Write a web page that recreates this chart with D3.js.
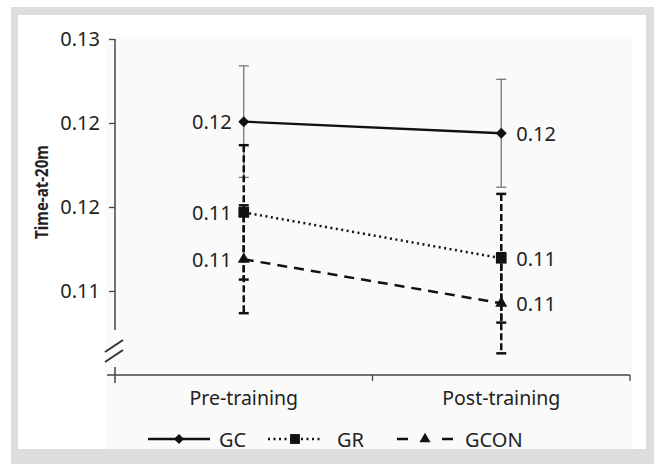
<!DOCTYPE html>
<html>
<head>
<meta charset="utf-8">
<script src="https://cdn.jsdelivr.net/npm/d3@7"></script>
<style>
  body { margin: 0; background: #fff; }
  text { font-family: "Noto Sans", "Open Sans", sans-serif; fill: #222; }
</style>
</head>
<body>
<div id="graph"></div>
<script>
"use strict";

let width = 654,
    height = 464;

// data
const categories = ["Pre-training", "Post-training"];
const groups = ["GC", "GR", "GCON"];
const gcMean = [0.12508, 0.12439];
const gcSD = [0.00332, 0.00321];
const grMean = [0.11968, 0.11695];
const grSD = [0.00400, 0.00383];
const gconMean = [0.11689, 0.11427];
const gconSD = [0.00321, 0.00298];
const gcLabels = ["0.12", "0.12"];
const grLabels = ["0.11", "0.11"];
const gconLabels = ["0.11", "0.11"];
const yTicks = [0.115, 0.12, 0.125, 0.13];
const yTickLabels = ["0.11", "0.12", "0.12", "0.13"];

const plot = { left: 115, right: 630, top: 39, axisY: 375 };

let svg = d3.select("#graph")
    .append("svg")
    .attr("width", width)
    .attr("height", height);

// white panel + light plot area
svg.append("rect").attr("x", 18).attr("y", 15).attr("width", 628).attr("height", 440).attr("fill", "#fff");
svg.append("rect").attr("x", 105).attr("y", 37).attr("width", 527).attr("height", 412).attr("fill", "#fafafa");

let x = d3.scaleBand().domain(categories).range([plot.left, plot.right]);
let y = d3.scaleLinear().domain([0.115, 0.13]).range([291, 39]);
let cx = (c) => x(c) + x.bandwidth() / 2;

// y axis
let yAxis = svg.append("g")
    .attr("transform", "translate(" + plot.left + ",0)")
    .call(d3.axisLeft(y)
        .tickValues(yTicks)
        .tickFormat((d, i) => yTickLabels[i])
        .tickSize(6)
        .tickPadding(9));
yAxis.select(".domain").remove();
yAxis.selectAll("line").attr("stroke", "#444").attr("stroke-width", 1.3);
yAxis.selectAll("text").style("font-size", "20px").attr("fill", "#222");

svg.append("line")
    .attr("x1", plot.left).attr("x2", plot.left)
    .attr("y1", y(0.13)).attr("y2", 330)
    .attr("stroke", "#444").attr("stroke-width", 1.5);

// axis break
[0, 10].forEach(function (off) {
    svg.append("line")
        .attr("x1", 105).attr("y1", 352 + off)
        .attr("x2", 123).attr("y2", 340 + off)
        .attr("stroke", "#333").attr("stroke-width", 2);
});

// x axis
svg.append("line")
    .attr("x1", 107).attr("x2", plot.right)
    .attr("y1", plot.axisY).attr("y2", plot.axisY)
    .attr("stroke", "#444").attr("stroke-width", 1.5);
svg.append("line")
    .attr("x1", plot.left).attr("x2", plot.left)
    .attr("y1", plot.axisY - 8).attr("y2", plot.axisY + 8)
    .attr("stroke", "#444").attr("stroke-width", 1.5);
categories.forEach(function (c) {
    svg.append("line")
        .attr("x1", x(c) + x.bandwidth()).attr("x2", x(c) + x.bandwidth())
        .attr("y1", plot.axisY).attr("y2", plot.axisY + 6)
        .attr("stroke", "#444").attr("stroke-width", 1.3);
});
svg.selectAll(".xlabel")
    .data(categories)
    .enter()
    .append("text")
    .attr("x", (d) => cx(d))
    .attr("y", 397)
    .attr("text-anchor", "middle")
    .attr("dominant-baseline", "central")
    .style("font-size", "19.5px")
    .text((d) => d);

// y title
svg.append("text")
    .attr("transform", "translate(41,192) rotate(-90)")
    .attr("text-anchor", "middle")
    .attr("dominant-baseline", "central")
    .attr("textLength", 94)
    .attr("lengthAdjust", "spacingAndGlyphs")
    .style("font-size", "18px")
    .style("font-weight", "bold")
    .text("Time-at-20m");

const series = [
    { name: groups[0], mean: gcMean, sd: gcSD, labels: gcLabels, dash: null, width: 2.3, symbol: d3.symbolSquare, size: 60, rotate: 45,
      barColor: "#777", barWidth: 1.3, barDash: null },
    { name: groups[1], mean: grMean, sd: grSD, labels: grLabels, dash: "2,3.5", width: 2.5, symbol: d3.symbolSquare, size: 115, rotate: 0,
      barColor: "#111", barWidth: 2.5, barDash: "7,3" },
    { name: groups[2], mean: gconMean, sd: gconSD, labels: gconLabels, dash: "10,7", width: 2.5, symbol: d3.symbolTriangle, size: 62, rotate: 0,
      barColor: "#111", barWidth: 2.5, barDash: "7,3" }
];

// error bars
series.forEach(function (s) {
    let g = svg.append("g");
    categories.forEach(function (c, i) {
        let hi = y(s.mean[i] + s.sd[i]), lo = y(s.mean[i] - s.sd[i]);
        g.append("line")
            .attr("x1", cx(c)).attr("x2", cx(c))
            .attr("y1", hi).attr("y2", lo)
            .attr("stroke", s.barColor).attr("stroke-width", s.barWidth)
            .attr("stroke-dasharray", s.barDash);
        [hi, lo].forEach(function (yy) {
            g.append("line")
                .attr("x1", cx(c) - 5).attr("x2", cx(c) + 5)
                .attr("y1", yy).attr("y2", yy)
                .attr("stroke", s.barColor).attr("stroke-width", s.barWidth);
        });
    });
});

// lines, markers, labels
let line = d3.line()
    .x((d, i) => cx(categories[i]))
    .y((d) => y(d));

series.forEach(function (s) {
    svg.append("path")
        .datum(s.mean)
        .attr("fill", "none")
        .attr("stroke", "#111")
        .attr("stroke-width", s.width)
        .attr("stroke-dasharray", s.dash)
        .attr("d", line);

    svg.selectAll(".m-" + s.name)
        .data(s.mean)
        .enter()
        .append("path")
        .attr("d", d3.symbol().type(s.symbol).size(s.size))
        .attr("transform", (d, i) => "translate(" + cx(categories[i]) + "," + y(d) + ") rotate(" + s.rotate + ")")
        .attr("fill", "#111");

    svg.selectAll(".l-" + s.name)
        .data(s.mean)
        .enter()
        .append("text")
        .attr("x", (d, i) => i == 0 ? cx(categories[i]) - 12 : cx(categories[i]) + 15)
        .attr("y", (d) => y(d))
        .attr("text-anchor", (d, i) => i == 0 ? "end" : "start")
        .attr("dominant-baseline", "central")
        .style("font-size", "20px")
        .text((d, i) => s.labels[i]);
});

// legend
const legendX = [148, 268, 397];
let legend = svg.append("g").attr("transform", "translate(0,439)");
series.forEach(function (s, i) {
    let x0 = legendX[i];
    let len = i == 2 ? 56 : (i == 0 ? 62 : 54);
    legend.append("line")
        .attr("x1", x0).attr("x2", x0 + len)
        .attr("y1", 0).attr("y2", 0)
        .attr("stroke", "#111")
        .attr("stroke-width", s.width)
        .attr("stroke-dasharray", i == 2 ? "11,34,11" : s.dash);
    legend.append("path")
        .attr("d", d3.symbol().type(s.symbol).size(s.size * 0.85))
        .attr("transform", "translate(" + (x0 + len / 2) + ",0) rotate(" + s.rotate + ")")
        .attr("fill", "#111");
    legend.append("text")
        .attr("x", x0 + len + (i == 0 ? 9 : (i == 1 ? 15 : 12)))
        .attr("y", 0)
        .attr("dominant-baseline", "central")
        .style("font-size", "20px")
        .text(s.name);
});

// grey frame drawn last so it clips the legend bottom like the original
let frame = svg.append("g").attr("fill", "#dcdddf");
frame.append("rect").attr("x", 11).attr("y", 7).attr("width", width - 11).attr("height", 8);
frame.append("rect").attr("x", 11).attr("y", 7).attr("width", 7).attr("height", height - 7);
frame.append("rect").attr("x", 646).attr("y", 7).attr("width", 8).attr("height", height - 7);
frame.append("rect").attr("x", 11).attr("y", 449).attr("width", width - 11).attr("height", height - 449);
</script>
</body>
</html>
